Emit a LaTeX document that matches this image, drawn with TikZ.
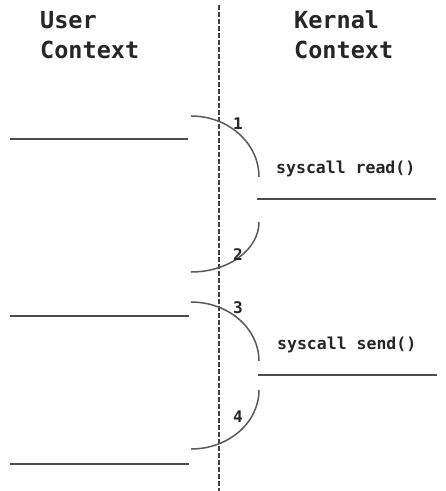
\documentclass[tikz,border=0pt]{standalone}
\usepackage{fontspec}
\newfontfamily\monob{DejaVu Sans Mono}
\begin{document}
\begin{tikzpicture}[x=1pt,y=-1pt,
  seg/.style={draw=black!70,line width=1.6pt},
  arcline/.style={draw=black!65,line width=1.5pt},
  divider/.style={draw=black!75,line width=1.8pt,dash pattern=on 4.5pt off 2.5pt},
  title/.style={anchor=base west,inner sep=0pt,font=\monob\bfseries\fontsize{23.5}{30}\selectfont,align=left,text=black!85},
  call/.style={anchor=base west,inner sep=0pt,font=\monob\bfseries\fontsize{16.5}{20}\selectfont,text=black!85},
  num/.style={anchor=base,inner sep=0pt,font=\monob\bfseries\fontsize{16}{18}\selectfont,text=black!85}]
\useasboundingbox (0,0) rectangle (446,491);
% divider
\coordinate (dtop) at (219,5);
\coordinate (dbot) at (219,491);
\draw[divider] (dtop) -- (dbot);
% titles
\node[title] (user) at (40,28) {User};
\node[title] (userc) at (40,58) {Context};
\node[title] (kern) at (294,28) {Kernal};
\node[title] (kernc) at (294,58) {Context};
% user lines
\coordinate (u1a) at (10,139); \coordinate (u1b) at (188,139);
\coordinate (u2a) at (10,316); \coordinate (u2b) at (189,316);
\coordinate (u3a) at (10,464); \coordinate (u3b) at (189,464);
\draw[seg] (u1a) -- (u1b);
\draw[seg] (u2a) -- (u2b);
\draw[seg] (u3a) -- (u3b);
% kernel lines
\coordinate (k1a) at (257,199); \coordinate (k1b) at (436,199);
\coordinate (k2a) at (258,375); \coordinate (k2b) at (437,375);
\draw[seg] (k1a) -- (k1b);
\draw[seg] (k2a) -- (k2b);
% arcs
\coordinate (a1s) at (191,116); \coordinate (a1e) at (259,177);
\coordinate (a2s) at (259,222); \coordinate (a2e) at (191,272);
\coordinate (a3s) at (191,302); \coordinate (a3e) at (259,361);
\coordinate (a4s) at (259,390); \coordinate (a4e) at (191,449);
\draw[arcline] (a1s) .. controls (228.5,116) and (259,143.3) .. (a1e);
\draw[arcline] (a2s) .. controls (259,249.6) and (228.5,272) .. (a2e);
\draw[arcline] (a3s) .. controls (228.5,302) and (259,328.4) .. (a3e);
\draw[arcline] (a4s) .. controls (259,422.6) and (228.5,449) .. (a4e);
% labels
\node[num] (n1) at (238,129) {1};
\node[num] (n2) at (238,260) {2};
\node[num] (n3) at (238,313) {3};
\node[num] (n4) at (238,422) {4};
\node[call] (read) at (276,173) {syscall read()};
\node[call] (send) at (277,349) {syscall send()};
\end{tikzpicture}
\end{document}
